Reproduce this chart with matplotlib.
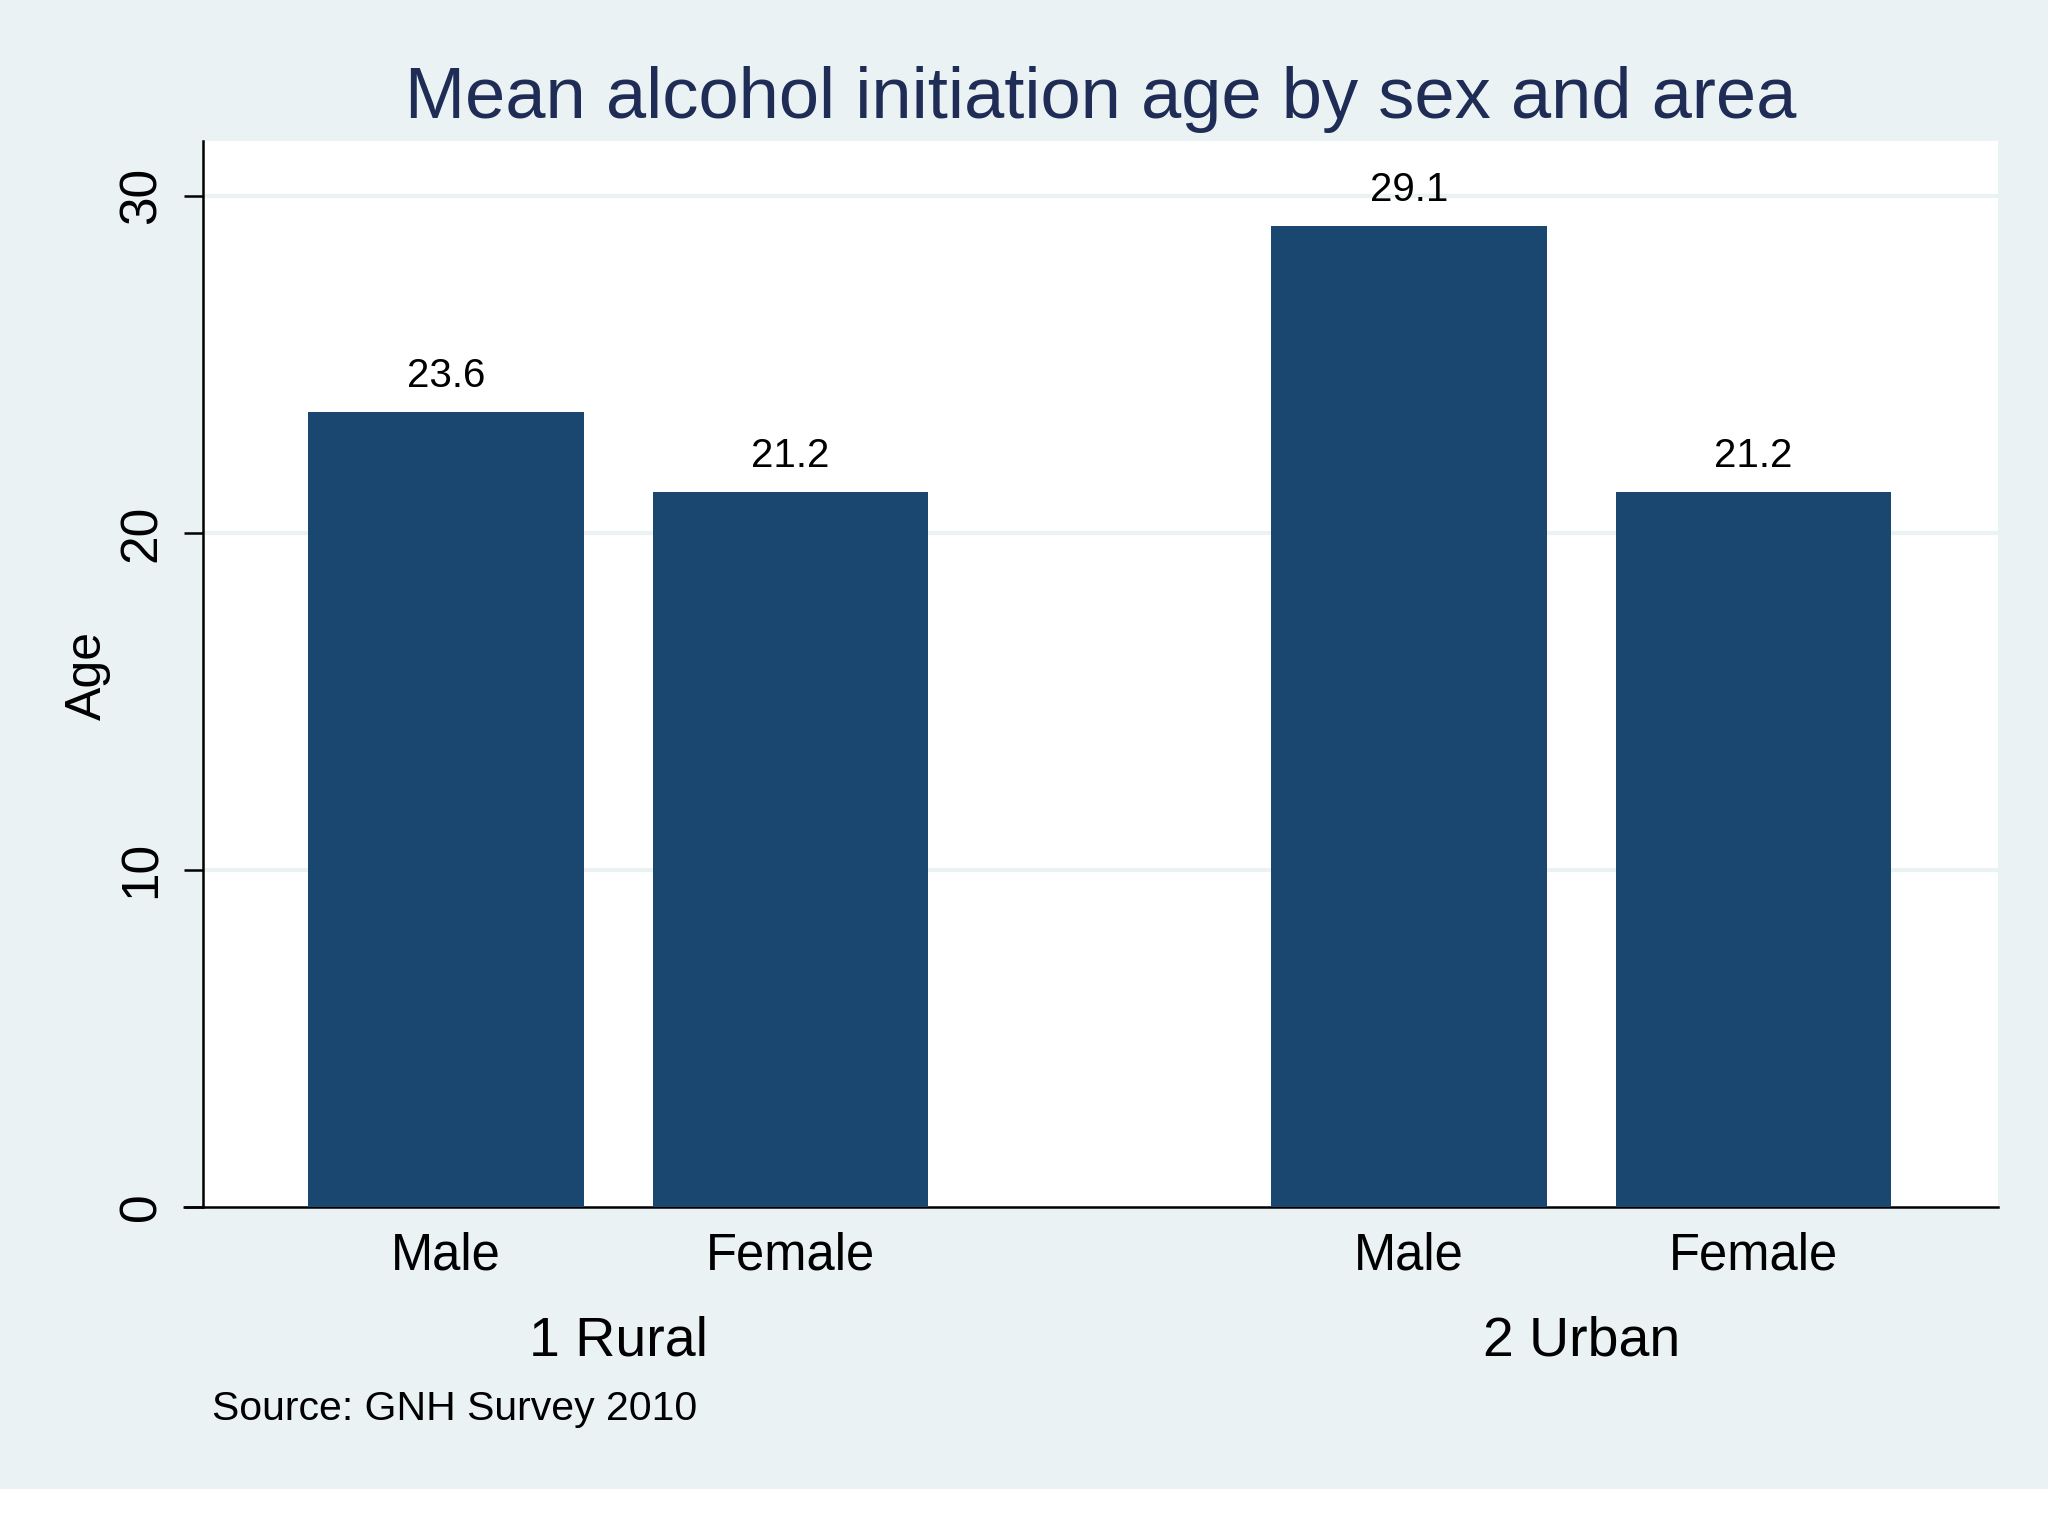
import matplotlib.pyplot as plt
import matplotlib.transforms as mtransforms
from matplotlib.patches import Rectangle

plt.rcParams['font.family'] = ['Liberation Sans', 'DejaVu Sans']

areas = ['1 Rural', '2 Urban']
sexes = ['Male', 'Female']
ages = [[23.6, 21.2],   # rural: male, female
        [29.1, 21.2]]   # urban: male, female

BG = '#EAF2F3'
BAR = '#1A476F'
TITLE = '#1F2D56'

fig = plt.figure(figsize=(20.48, 15.36), dpi=100, facecolor='white')
# light graph region, with a white strip left at the bottom
fig.patches.append(Rectangle((0, 0.0306), 1, 1 - 0.0306, transform=fig.transFigure,
                             facecolor=BG, edgecolor='none', zorder=-10))

ax = fig.add_axes([0.0989, 0.2143, 0.9758 - 0.0989, 0.9082 - 0.2143])
ax.set_facecolor('white')

group_step = 3.494
sex_step = 1.25
xs, hs, xlabels = [], [], []
for g, area in enumerate(areas):
    for s, sex in enumerate(sexes):
        xs.append(g * group_step + s * sex_step)
        hs.append(ages[g][s])
        xlabels.append(sex)

ax.bar(xs, hs, width=1.0, color=BAR, edgecolor='none', zorder=3)
for x, h in zip(xs, hs):
    ax.annotate(f'{h:.1f}', (x, h), xytext=(0, 18), textcoords='offset points',
                ha='center', va='baseline', fontsize=29, color='black', zorder=4)

ax.set_xlim(-0.884, 5.633)
ax.set_ylim(0, 31.63)
ax.set_yticks([0, 10, 20, 30])
ax.set_xticks(xs)
ax.set_xticklabels(xlabels, fontsize=36.5)
ax.tick_params(axis='x', length=0, pad=18)
ax.tick_params(axis='y', length=14, width=1.8, pad=12, labelsize=37, labelrotation=90)
for lab in ax.get_yticklabels():
    lab.set_verticalalignment('center')

for y in [10, 20, 30]:
    ax.axhline(y, color=BG, lw=3, zorder=1)

for side in ['top', 'right']:
    ax.spines[side].set_visible(False)
ax.spines['left'].set_linewidth(1.8)
ax.spines['bottom'].set_linewidth(1.8)
# x axis line runs a little past the y axis, as far as the tick marks
ax.plot([-0.011, 0], [0, 0], transform=ax.transAxes, color='black', lw=1.8,
        clip_on=False, solid_capstyle='butt')

# group labels under the sex labels
group_tr = mtransforms.blended_transform_factory(ax.transData, fig.transFigure)
for g, area in enumerate(areas):
    cx = g * group_step + sex_step / 2
    ax.text(cx, 0.1173, area, transform=group_tr, ha='center', va='baseline', fontsize=40)

fig.text(0.0427, 0.5604, 'Age', rotation=90, ha='center', va='center', fontsize=36)
fig.text(0.5373, 0.9235, 'Mean alcohol initiation age by sex and area',
         ha='center', va='baseline', fontsize=52, color=TITLE)
fig.text(0.1033, 0.0757, 'Source: GNH Survey 2010', ha='left', va='baseline', fontsize=29.5)

fig.savefig('out.png', dpi=100, facecolor=fig.get_facecolor())
